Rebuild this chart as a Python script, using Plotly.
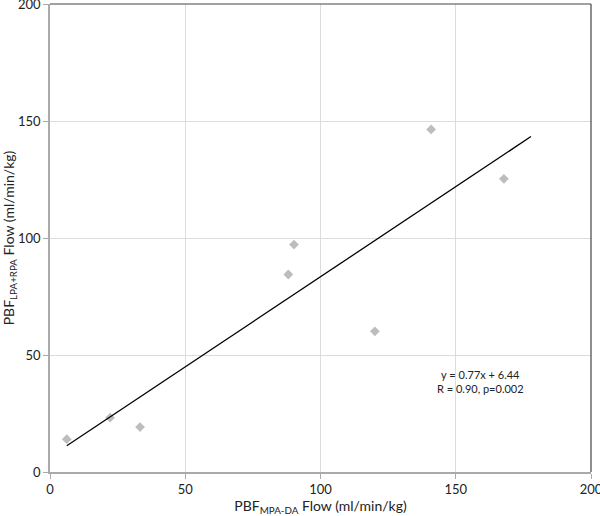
import plotly.graph_objects as go

x_flow = [6.2, 22.2, 33.3, 90.2, 88.1, 120.1, 140.9, 167.8]
y_flow = [14.0, 23.2, 19.2, 97.2, 84.4, 60.1, 146.4, 125.3]
slope = 0.77
intercept = 6.44
fit_x = [6.2, 177.8]
fit_y = [slope * v + intercept for v in fit_x]
ticks = [0, 50, 100, 150, 200]

fig = go.Figure()
fig.add_trace(go.Scatter(x=x_flow, y=y_flow, mode="markers",
                         marker=dict(symbol="diamond", size=7.5, color="#bdbdbd"),
                         showlegend=False, cliponaxis=False))
fig.add_trace(go.Scatter(x=fit_x, y=fit_y, mode="lines",
                         line=dict(color="black", width=1.3), showlegend=False))

font = "Lato, Open Sans, sans-serif"
axis_common = dict(range=[0, 200], tickvals=ticks, showgrid=True, gridcolor="#dcdcdc",
                   zeroline=False, showline=True, linecolor="#aaaaaa", linewidth=1.5,
                   ticks="outside", ticklen=5, tickcolor="#aaaaaa",
                   ticklabeloverflow="allow", automargin=False,
                   tickfont=dict(size=13, color="#222"))
fig.update_layout(
    width=600, height=516,
    margin=dict(l=50, r=9, t=4, b=44),
    paper_bgcolor="white", plot_bgcolor="white",
    font=dict(family=font, size=13, color="#222"),
    xaxis=dict(**axis_common,
               title=dict(text="PBF<sub>MPA-DA</sub> Flow (ml/min/kg)", standoff=1,
                          font=dict(size=14))),
    yaxis=dict(**axis_common,
               title=dict(text="PBF<sub>LPA+RPA</sub> Flow (ml/min/kg)", standoff=4,
                          font=dict(size=14))),
    shapes=[
        dict(type="line", xref="paper", yref="paper", x0=0, x1=1, y0=1, y1=1,
             line=dict(color="#444", width=1.2)),
        dict(type="line", xref="paper", yref="paper", x0=1, x1=1, y0=0, y1=1,
             line=dict(color="#444", width=1.2)),
    ],
    annotations=[
        dict(x=159, y=38.7, xref="x", yref="y", xanchor="center", yanchor="middle",
             text="y = 0.77x + 6.44<br>R = 0.90, p=0.002", showarrow=False,
             align="center", font=dict(size=11, color="#222")),
    ],
)
fig.write_html("out.html", config={"displayModeBar": False},
               post_script="document.body.style.margin='0';document.body.style.overflow='hidden';")
